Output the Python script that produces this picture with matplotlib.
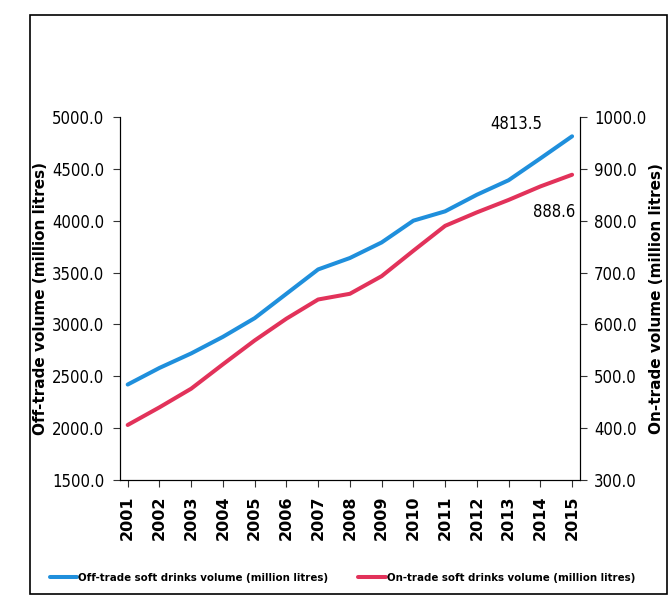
import matplotlib
matplotlib.use("Agg")
import matplotlib.pyplot as plt
from matplotlib.patches import Rectangle

years = ["2001", "2002", "2003", "2004", "2005", "2006", "2007", "2008",
         "2009", "2010", "2011", "2012", "2013", "2014", "2015"]
off_trade = [2420, 2580, 2720, 2880, 3060, 3295, 3530, 3640, 3790,
             4000, 4090, 4250, 4390, 4600, 4813.5]
on_trade = [406, 440, 476, 523, 569, 611, 648, 659, 693,
            742, 790, 816, 840, 866, 888.6]

blue = "#1f8fdc"
red = "#e2325a"

fig = plt.figure(figsize=(6.69, 6.06), dpi=100)
ax = fig.add_axes([0.179, 0.208, 0.688, 0.599])
ax2 = ax.twinx()

x = list(range(len(years)))
l1, = ax.plot(x, off_trade, color=blue, lw=2.9, solid_capstyle="round")
l2, = ax2.plot(x, on_trade, color=red, lw=2.9, solid_capstyle="round")

ax.set_ylim(1500, 5000)
ax.set_yticks([1500, 2000, 2500, 3000, 3500, 4000, 4500, 5000])
ax.set_yticklabels(["%.1f" % v for v in ax.get_yticks()], fontsize=12, fontstretch="condensed")
ax2.set_ylim(300, 1000)
ax2.set_yticks([300, 400, 500, 600, 700, 800, 900, 1000])
ax2.set_yticklabels(["%.1f" % v for v in ax2.get_yticks()], fontsize=12, fontstretch="condensed")

ax.set_xlim(-0.25, 14.25)
ax.set_xticks(x)
ax.set_xticklabels(years, rotation=90, fontsize=11.5, fontweight="bold")

for a in (ax, ax2):
    a.spines["top"].set_visible(False)
    a.tick_params(direction="out", length=5, width=0.8, color="#333333")
ax.tick_params(axis="y", pad=6)
ax2.tick_params(axis="y", pad=5)
ax.tick_params(axis="x", pad=6)

ax.set_ylabel("Off-trade volume (million litres)", fontsize=11, fontweight="bold")
ax.yaxis.set_label_coords(-0.155, 0.5)
ax2.set_ylabel("On-trade volume (million litres)", fontsize=11, fontweight="bold")
ax2.yaxis.set_label_coords(1.15, 0.5)

ax.annotate("4813.5", (14, off_trade[-1]), xytext=(-40, 9), textcoords="offset points",
            ha="center", va="center", fontsize=12, fontstretch="condensed")
ax2.annotate("888.6", (14, on_trade[-1]), xytext=(-13, -27), textcoords="offset points",
             ha="center", va="center", fontsize=12, fontstretch="condensed")

fig.legend([l1, l2], ["Off-trade soft drinks volume (million litres)",
                      "On-trade soft drinks volume (million litres)"],
           loc="center", bbox_to_anchor=(0.512, 0.046), ncol=2, frameon=False,
           handlelength=2.4, handletextpad=0.1, columnspacing=2.6,
           prop={"size": 8.2, "weight": "bold", "stretch": "condensed"})

fig.patches.append(Rectangle((0.045, 0.02), 0.952, 0.955, transform=fig.transFigure,
                             fill=False, edgecolor="black", lw=1.2))

fig.savefig("out.png", dpi=100)
